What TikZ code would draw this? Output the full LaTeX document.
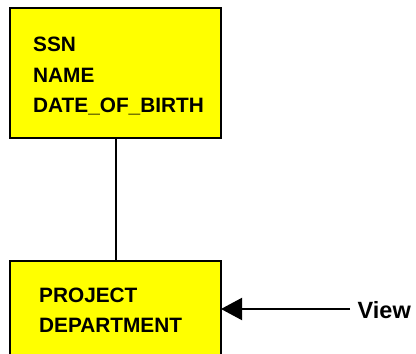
\documentclass[tikz,border=0pt]{standalone}
\usepackage{fontspec}
\setmainfont{Liberation Sans}
\usetikzlibrary{arrows.meta}
\definecolor{entfill}{RGB}{255,255,0}
\begin{document}
\begin{tikzpicture}[x=1pt,y=1pt,
  entbox/.style={draw=black, fill=entfill, line width=2pt, rectangle,
    inner sep=0pt, outer sep=0pt, minimum width=211pt},
  attr/.style={font=\fontsize{20.8}{24}\selectfont\bfseries,
    anchor=base west, inner sep=0pt},
  tag/.style={font=\fontsize{23.5}{27}\selectfont\bfseries,
    anchor=base west, inner sep=0pt},
  link/.style={line width=2pt, draw=black}]
\useasboundingbox (0,0) rectangle (416,354);
\clip (0,0) rectangle (416,354);

% entity boxes
\node[entbox, minimum height=130pt] (emp) at (115.5,281) {};
\node[entbox, minimum height=113pt] (dept) at (115.5,36.5) {};

% attribute lists
\node[attr] (ssn)  at (33,302) {SSN};
\node[attr] (name) at (33,271) {NAME};
\node[attr] (dob)  at (33,241) {DATE\_OF\_BIRTH};
\node[attr] (proj) at (39,51) {PROJECT};
\node[attr] (dep)  at (39,21) {DEPARTMENT};

% relationship line
\draw[link] (emp.south) -- (dept.north);

% pointer to the lower box
\node[tag] (viewlbl) at (357.5,35) {View};
\coordinate (vsrc) at (350,45);
\draw[link, -{Triangle[length=21pt,width=22pt]}] (vsrc) -- (vsrc -| dept.east);
\end{tikzpicture}
\end{document}
